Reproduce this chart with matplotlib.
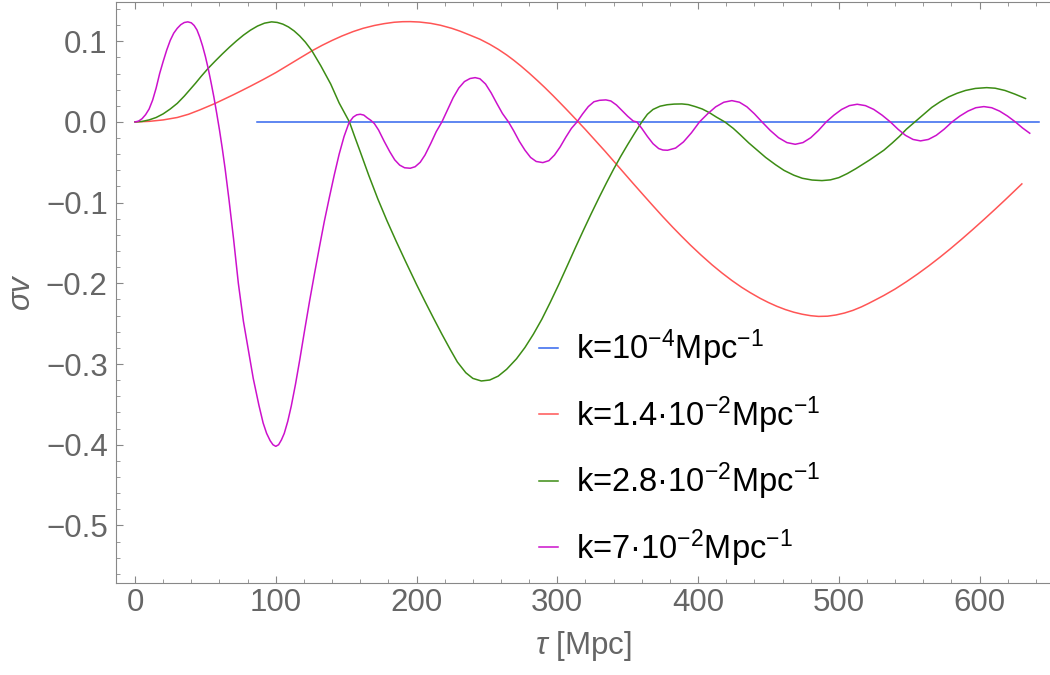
import matplotlib
matplotlib.use("Agg")
import matplotlib.pyplot as plt
from matplotlib.ticker import MultipleLocator

plt.rcParams['font.family'] = ['Liberation Sans', 'DejaVu Sans']
plt.rcParams['mathtext.fontset'] = 'custom'
plt.rcParams['mathtext.rm'] = 'Liberation Sans'
plt.rcParams['mathtext.it'] = 'Liberation Sans:italic'

# blue: k = 1e-4 (flat at zero)
tau_blue = [87, 642]
sv_blue = [0.0, 0.0]

# red: k = 1.4e-2
tau_red = [0, 10, 20, 30, 38, 46, 57, 64, 70, 76, 82, 91, 100, 108, 117, 126, 133,
           140, 147, 155, 162, 170, 177, 184, 190, 195.5, 202, 210, 217, 225, 231,
           238, 245, 252, 258, 264, 269, 274, 280, 286, 291, 297, 302, 306, 310,
           314, 320, 327, 334, 340, 347, 354, 361, 368, 375, 382, 388, 394.5, 402,
           410, 417, 424, 431, 437, 444, 450, 456, 462, 468, 474, 480, 485.6, 492,
           498, 504, 510, 516, 521, 526, 532, 540, 548, 556, 564, 572, 579, 587,
           595, 603, 611, 618, 624, 630]
sv_red = [0.0, 0.0007, 0.0025, 0.0055, 0.0095, 0.0149, 0.023, 0.0288, 0.0338,
          0.039, 0.0443, 0.0525, 0.0611, 0.0695, 0.079, 0.0884, 0.095, 0.101,
          0.1065, 0.112, 0.116, 0.1195, 0.1218, 0.1235, 0.1242, 0.1243, 0.1238,
          0.1222, 0.1198, 0.116, 0.1124, 0.1075, 0.1025, 0.0962, 0.090, 0.083,
          0.0765, 0.0695, 0.0605, 0.051, 0.0428, 0.0325, 0.0236, 0.0164, 0.0091,
          0.0017, -0.0095, -0.023, -0.0365, -0.0485, -0.0625, -0.0765, -0.0903,
          -0.104, -0.1175, -0.1305, -0.1412, -0.1525, -0.1648, -0.1772, -0.1872,
          -0.1965, -0.205, -0.2115, -0.2185, -0.2238, -0.2285, -0.2325, -0.2358,
          -0.2383, -0.2401, -0.241, -0.2407, -0.2392, -0.2368, -0.2335, -0.2292,
          -0.225, -0.2205, -0.215, -0.207, -0.198, -0.1884, -0.1782, -0.1674,
          -0.1575, -0.1457, -0.1335, -0.121, -0.1082, -0.0968, -0.0868, -0.0768]

# green: k = 2.8e-2
tau_green = [0, 5, 10, 15, 20, 25, 30, 35, 39, 43, 47, 52, 57, 62, 67, 72, 77, 82,
             87, 92, 97, 101, 105, 109, 113, 117, 121, 125.6, 132, 139, 145, 152.3,
             156, 160, 166, 172.5, 179, 185.5, 192, 200, 206, 212, 218, 224, 229,
             235, 240, 246, 252, 258, 264, 271, 277, 283, 289, 295, 301, 307, 313,
             318.6, 324, 330, 335, 340, 345, 350, 355, 360, 364, 368, 373, 378, 383,
             388.5, 393, 398, 403, 408, 413, 419, 425, 430, 436, 442, 448, 455,
             461, 468, 474, 481, 488, 494, 500, 506, 512, 517, 522, 527, 532, 538,
             543, 548, 554, 560, 566, 572, 578, 584, 590, 597, 605, 611, 618, 625,
             632.6]
sv_green = [0.0, 0.0006, 0.0025, 0.0055, 0.010, 0.016, 0.023, 0.032, 0.040, 0.048,
            0.0565, 0.0665, 0.0755, 0.0842, 0.0925, 0.1003, 0.1075, 0.1137,
            0.1188, 0.1224, 0.124, 0.1233, 0.1212, 0.1177, 0.1128, 0.1065, 0.0989,
            0.0883, 0.0695, 0.047, 0.0235, 0.0, -0.018, -0.037, -0.066, -0.0955,
            -0.1225, -0.1478, -0.1722, -0.2015, -0.2225, -0.243, -0.263, -0.2822,
            -0.2975, -0.3108, -0.3178, -0.321, -0.3198, -0.315, -0.3065, -0.2935,
            -0.2795, -0.263, -0.2445, -0.2235, -0.2015, -0.1785, -0.1552, -0.134,
            -0.114, -0.0925, -0.0752, -0.0585, -0.0428, -0.028, -0.0138, 0.0,
            0.0095, 0.0155, 0.0195, 0.0213, 0.0221, 0.0223, 0.0215, 0.019, 0.016,
            0.0115, 0.006, 0.0, -0.008, -0.016, -0.026, -0.035, -0.044, -0.053,
            -0.060, -0.066, -0.0698, -0.072, -0.0727, -0.0718, -0.069, -0.064,
            -0.058, -0.0525, -0.047, -0.041, -0.035, -0.026, -0.018, -0.009, 0.0,
            0.009, 0.018, 0.025, 0.031, 0.0355, 0.039, 0.0415, 0.0425, 0.0418,
            0.039, 0.0345, 0.029]

# magenta: k = 7e-2
tau_mag = [0, 2.5, 5, 7.5, 10, 12.5, 15, 17.5, 20, 22.5, 25, 27.5, 30, 32.5, 35,
           37.5, 40, 42, 44, 46, 48, 50, 52, 54, 56, 58, 60, 62, 64, 66.8, 70,
           73.4, 77, 80.5, 84, 88, 91, 93.5, 96, 98, 100, 102, 104, 106, 108.5,
           111, 114, 117, 120.5, 124, 127.5, 131, 134.5, 138, 141.5, 145, 148.5,
           152, 155, 157.5, 160, 162.5, 165, 167.5, 170, 173, 177, 181, 184.5, 188,
           191.5, 195.5, 199, 202.6, 206, 210, 214, 218, 222, 226, 230, 234, 238,
           241.6, 245, 249, 253, 257, 261, 265.3, 269, 273, 277, 281, 285, 289.7,
           294, 298, 302, 306, 310, 314, 318, 322, 326, 330, 334.5, 338, 342, 346,
           350, 354, 356.5, 360, 364, 368, 372, 375, 378.3, 384, 389.6, 395.3, 401,
           406.8, 412.5, 418.3, 424, 429.4, 434.7, 440, 445.4, 451.3, 457.2,
           463.1, 469, 474.5, 480, 485.5, 491, 496.5, 502, 507.5, 513, 518.9,
           524.8, 530.7, 536.6, 542, 547.3, 552.7, 558, 563.6, 569.2, 574.8,
           580.4, 586, 591.7, 597.3, 603, 608.6, 614.2, 619.8, 625.4, 630.5, 635.6]
sv_mag = [0.0, 0.001, 0.004, 0.009, 0.016, 0.027, 0.042, 0.060, 0.075, 0.089,
          0.101, 0.110, 0.116, 0.1205, 0.1232, 0.124, 0.1228, 0.1195, 0.114,
          0.105, 0.094, 0.081, 0.066, 0.049, 0.031, 0.011, -0.010, -0.033, -0.058,
          -0.097, -0.145, -0.200, -0.247, -0.2825, -0.318, -0.351, -0.373,
          -0.386, -0.395, -0.400, -0.402, -0.400, -0.394, -0.386, -0.371, -0.352,
          -0.325, -0.295, -0.258, -0.222, -0.188, -0.155, -0.123, -0.094, -0.066,
          -0.040, -0.018, -0.001, 0.006, 0.0088, 0.0095, 0.0085, 0.005, 0.002,
          -0.002, -0.010, -0.024, -0.037, -0.047, -0.0535, -0.0568, -0.0574,
          -0.0555, -0.050, -0.041, -0.027, -0.012, 0.0, 0.015, 0.030, 0.042,
          0.050, 0.0538, 0.0549, 0.0535, 0.047, 0.036, 0.023, 0.0105, 0.0,
          -0.011, -0.024, -0.035, -0.044, -0.049, -0.0504, -0.048, -0.041, -0.031,
          -0.019, -0.008, 0.0, 0.010, 0.019, 0.025, 0.0268, 0.0273, 0.026, 0.021,
          0.014, 0.007, 0.001, 0.0, -0.008, -0.018, -0.027, -0.033, -0.0348,
          -0.0351, -0.0324, -0.0248, -0.0134, 0.0, 0.0101, 0.0187, 0.0244, 0.0264,
          0.0244, 0.0187, 0.0101, 0.0, -0.0106, -0.0196, -0.0256, -0.0277,
          -0.0256, -0.0196, -0.0106, 0.0, 0.0084, 0.0155, 0.0202, 0.0219, 0.0202,
          0.0155, 0.0084, 0.0, -0.009, -0.0166, -0.0217, -0.0235, -0.0217,
          -0.0166, -0.009, 0.0, 0.0073, 0.0134, 0.0176, 0.019, 0.0176, 0.0134,
          0.0073, 0.0, -0.0075, -0.014]

labels = [r'k=10$^{-4}$Mpc$^{-1}$',
          r'k=1.4·10$^{-2}$Mpc$^{-1}$',
          r'k=2.8·10$^{-2}$Mpc$^{-1}$',
          r'k=7·10$^{-2}$Mpc$^{-1}$']

fig = plt.figure(figsize=(10.5, 6.75), dpi=100)
ax = fig.add_axes([0.1105, 0.1367, 0.8895, 0.8608])

ax.plot(tau_blue, sv_blue, color='#3366ee', lw=1.1, label=labels[0])
ax.plot(tau_red, sv_red, color='#ff5555', lw=1.1, label=labels[1])
ax.plot(tau_green, sv_green, color='#3c8c14', lw=1.1, label=labels[2])
ax.plot(tau_mag, sv_mag, color='#cc11cc', lw=1.1, label=labels[3])

ax.set_xlim(-13.5, 650)
ax.set_ylim(-0.571, 0.149)

# frame and ticks in grey
grey = '#888888'
for s in ['left', 'bottom', 'top']:
    ax.spines[s].set_color(grey)
ax.spines['right'].set_visible(False)
ax.xaxis.set_major_locator(MultipleLocator(100))
ax.xaxis.set_minor_locator(MultipleLocator(20))
ax.yaxis.set_major_locator(MultipleLocator(0.1))
ax.yaxis.set_minor_locator(MultipleLocator(0.02))
ax.tick_params(which='both', direction='in', colors=grey, top=True,
               labelcolor='#666666', labelsize=22.5)
ax.tick_params(which='major', length=5)
ax.tick_params(which='minor', length=3)
ax.tick_params(axis='y', pad=6)
ax.yaxis.set_major_formatter(plt.FuncFormatter(lambda v, p: f"{v:.1f}".replace('-', '\u2212')))

ax.set_xlabel(r'$\tau$ [Mpc]', fontsize=22.5, color='#666666', labelpad=8)
ax.set_ylabel(r'$\sigma v$', fontsize=22.5, color='#666666', labelpad=6)

ax.legend(loc='upper left', bbox_to_anchor=(0.421, 0.49), frameon=False,
          fontsize=23.5, handlelength=0.6, handletextpad=0.55, labelspacing=0.77)

fig.savefig('out.png', dpi=100)
